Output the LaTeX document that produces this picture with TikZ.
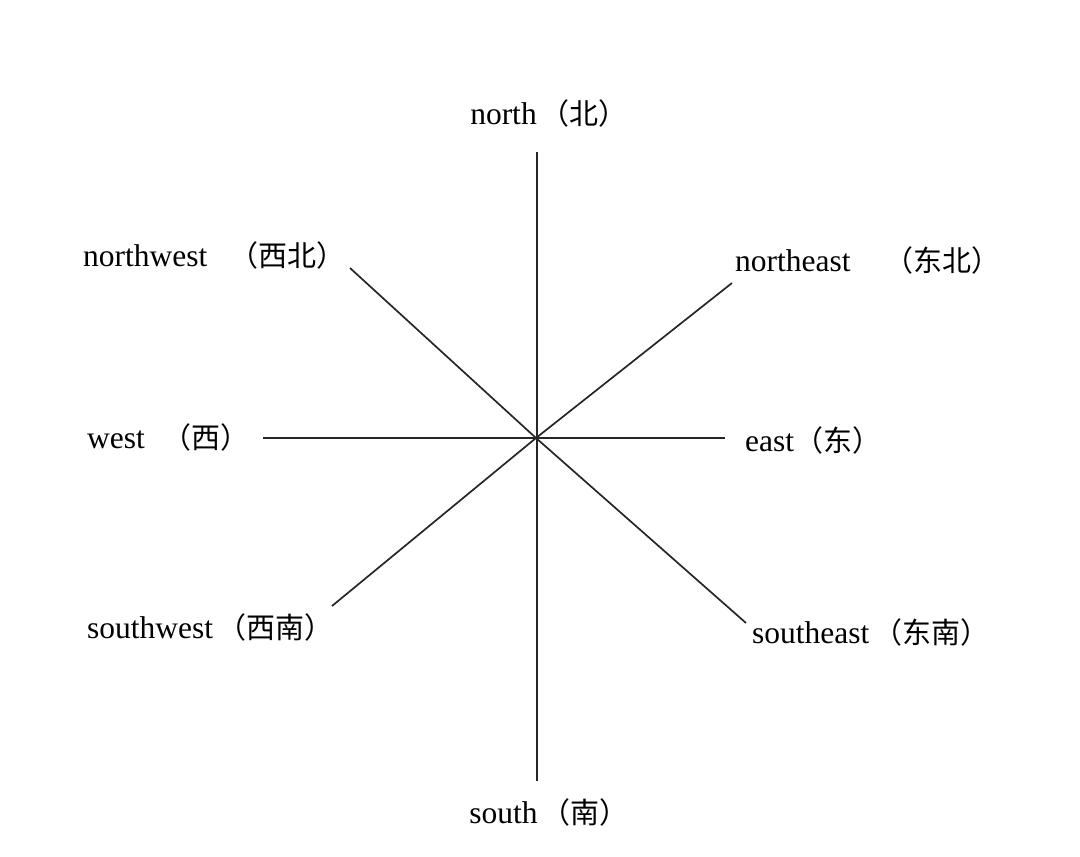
\documentclass[tikz,border=0pt]{standalone}
\usepackage{fontspec}
\setmainfont{Liberation Serif}
\newfontfamily\cjk{Noto Sans CJK SC}
\usepackage{tikz}

\tikzset{
  dirlabel/.style={inner sep=0pt, font=\fontsize{31.5}{36}\selectfont},
  axis/.style={line width=1.7pt, black!85}
}
\newcommand{\zh}[1]{{\cjk\fontsize{29}{32}\selectfont #1}}

\begin{document}
\begin{tikzpicture}[x=1pt, y=-1pt]
            \useasboundingbox (0,0) rectangle (1080,857);

            \coordinate (c) at (536,438);
            \coordinate (n) at (537,152);
            \coordinate (s) at (537,781);
            \coordinate (w) at (263,438);
            \coordinate (e) at (725,438);
            \coordinate (nw) at (350,268);
            \coordinate (ne) at (732,283);
            \coordinate (sw) at (332,606);
            \coordinate (se) at (746,623);

            \node[dirlabel] (nl) at (549,113) {north\hspace{4pt}\zh{（北）}};
            \node[dirlabel, anchor=west] (nwl) at (83,255) {northwest\hspace{22pt}\zh{（西北）}};
            \node[dirlabel, anchor=west] (nel) at (735,260) {northeast\hspace{34pt}\zh{（东北）}};
            \node[dirlabel, anchor=west] (wl) at (87,437) {west\hspace{18pt}\zh{（西）}};
            \node[dirlabel, anchor=west] (el) at (745,440) {east\zh{（东）}};
            \node[dirlabel, anchor=west] (swl) at (87,627) {southwest\hspace{4pt}\zh{（西南）}};
            \node[dirlabel, anchor=west] (sel) at (752,632) {southeast\hspace{4pt}\zh{（东南）}};
            \node[dirlabel] (sl) at (549,812) {south\hspace{4pt}\zh{（南）}};

            \draw[axis] (n) -- (s);
            \draw[axis] (w) -- (e);
            \draw[axis] (nw) -- (c) -- (se);
            \draw[axis] (sw) -- (c) -- (ne);
\end{tikzpicture}
\end{document}
